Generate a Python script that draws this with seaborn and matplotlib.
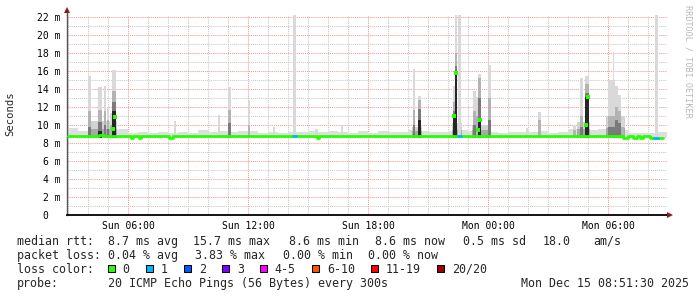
import numpy as np
import matplotlib
matplotlib.use("Agg")
import matplotlib.pyplot as plt
from matplotlib.patches import Rectangle
import seaborn as sns

# ---------------- data (times in hours since Sun 00:00, values in ms) ----------------
x_range = [2.95, 32.95]
tick_hours = [6, 12, 18, 24, 30]
tick_labels = ["Sun 06:00", "Sun 12:00", "Sun 18:00", "Mon 00:00", "Mon 06:00"]
y_ticks = [0, 2, 4, 6, 8, 10, 12, 14, 16, 18, 20, 22]
y_labels = ["0  ", "2 m", "4 m", "6 m", "8 m", "10 m", "12 m", "14 m", "16 m", "18 m", "20 m", "22 m"]
y_top = 22.2

# median rtt (step series)
median_t = [2.985, 4.535, 4.785, 4.935, 6.135, 6.235, 6.535, 6.635, 8.035, 8.235,
            15.435, 15.535, 23.485, 23.685, 28.59, 28.885, 30.735, 30.985, 31.235,
            31.435, 31.585, 31.735, 32.085, 32.735]
median_v = [8.72, 8.90, 8.80, 8.72, 8.52, 8.72, 8.52, 8.72, 8.55, 8.72,
            8.55, 8.72, 8.80, 8.72, 8.80, 8.72, 8.55, 8.72, 8.60,
            8.72, 8.55, 8.72, 8.60, 8.60]

# median values during the latency bursts
median_peak_t = [5.235, 5.335, 22.285, 22.41, 23.485, 23.61, 28.885, 28.985]
median_peak_v = [9.6, 10.9, 11.0, 15.8, 9.4, 10.6, 10.0, 13.1]

# median segments with 1/20 packet loss
loss1_start = [14.235, 22.485, 32.30]
loss1_end = [14.385, 22.635, 32.50]
loss1_v = [8.72, 8.72, 8.60]

# light smoke just above the median, per half hour from 03:00
fuzz_hi = [9.7, 9.3, 9.2, 9.4, 9.4, 9.5, 9.1, 9.2, 9.1, 9.2,
           9.1, 9.2, 9.1, 9.4, 9.2, 9.3, 9.2, 9.3, 9.3, 9.1,
           9.2, 9.1, 9.2, 9.2, 9.3, 9.2, 9.3, 9.2, 9.1, 9.3,
           9.1, 9.3, 9.2, 9.2, 9.4, 9.3, 9.2, 9.2, 9.3, 9.4,
           9.3, 9.3, 9.2, 9.1, 9.2, 9.2, 9.2, 9.3, 9.1, 9.2,
           9.5, 9.6, 9.4, 9.6, 9.8, 9.4, 9.1, 9.1, 9.1, 9.2]
smoke_floor = 8.6

# background of the burst periods: start, end, upper smoke, inner smoke
burst_start = [4.0, 20.2, 22.2, 23.2, 28.45, 29.9]
burst_end = [5.45, 20.7, 22.7, 24.15, 29.1, 30.85]
burst_hi = [10.4, 9.8, 10.2, 10.0, 10.3, 11.0]
burst_lo = [9.6, 9.3, 9.4, 9.4, 9.5, 9.7]

# latency bursts: centre time, duration, and smoke levels (max / upper / inner / core)
spike_t = [4.085, 4.62, 4.86, 5.01, 5.15, 5.31, 8.335, 10.56, 11.06, 12.06,
           13.32, 14.335, 15.435, 16.685, 20.30, 20.585, 22.285, 22.395, 22.565, 23.31,
           23.435, 23.585, 24.06, 25.96, 26.57, 28.335, 28.67, 28.95, 30.16, 30.26,
           30.41, 30.57, 30.735, 32.435]
spike_w = [0.15, 0.20, 0.125, 0.10, 0.125, 0.17, 0.10, 0.125, 0.15, 0.125,
           0.10, 0.125, 0.125, 0.10, 0.135, 0.165, 0.085, 0.115, 0.135, 0.165,
           0.13, 0.17, 0.15, 0.08, 0.135, 0.17, 0.165, 0.165, 0.35, 0.05,
           0.15, 0.135, 0.15, 0.15]
spike_max = [15.4, 14.2, 14.3, 12.0, 11.3, 16.1, 10.4, 11.1, 14.2, 12.7,
             9.8, 23.0, 9.6, 10.0, 16.2, 13.2, 14.3, 23.0, 23.0, 13.8,
             13.1, 15.7, 16.6, 9.7, 11.4, 9.9, 15.2, 15.4, 15.0, 18.1,
             14.3, 13.3, 10.6, 23.0]
spike_mid = [11.5, 11.7, 11.5, 10.5, 10.0, 13.8, 0, 0, 11.6, 10.0,
             0, 0, 0, 0, 11.7, 12.8, 12.5, 18.0, 0, 11.5,
             11.0, 15.2, 13.0, 0, 10.5, 9.4, 11.0, 14.5, 11.0, 0,
             12.0, 11.5, 9.8, 0]
spike_dark = [9.8, 10.3, 10.0, 9.5, 0, 12.5, 0, 0, 10.2, 0,
              0, 0, 0, 0, 10.0, 11.8, 11.5, 16.5, 0, 10.0,
              0, 13.0, 10.5, 0, 0, 0, 9.8, 13.5, 9.8, 0,
              10.5, 10.2, 0, 0]
spike_core = [0, 9.3, 0, 0, 0, 11.5, 0, 0, 0, 0,
              0, 0, 0, 0, 0, 10.5, 11.0, 15.8, 0, 0,
              0, 10.7, 0, 0, 0, 0, 0, 13.1, 0, 0,
              0, 0, 0, 0]

loss_labels = ["0", "1", "2", "3", "4-5", "6-10", "11-19", "20/20"]
loss_colors = ["#26ff00", "#00b8ff", "#0059ff", "#7e00ff", "#ff00ff", "#ff5500", "#ff0000", "#a10000"]

# ---------------- styling ----------------
sns.set_style("white")
plt.rcParams["font.family"] = ["DejaVu Sans Mono"]

W, H = 697, 297
L, R, T, B = 67, 667, 15, 215
fig = plt.figure(figsize=(W / 100, H / 100), dpi=100, facecolor="white")
ax = fig.add_axes([L / W, 1 - B / H, (R - L) / W, (B - T) / H])
ax.set_facecolor("white")
ax.set_xlim(*x_range)
ax.set_ylim(0, y_top)
ax.set_axisbelow(True)

RED_GRID = "#ee9a9a"
GREY_GRID = "#c8c8c8"
dots = (0, (1, 1))
ax.set_xticks(tick_hours)
ax.set_xticklabels(tick_labels)
ax.set_xticks(np.arange(3, 33), minor=True)
ax.set_yticks(y_ticks)
ax.set_yticklabels(y_labels)
ax.set_yticks(np.arange(0, 23), minor=True)
ax.grid(which="minor", color=GREY_GRID, linestyle=dots, linewidth=0.75)
ax.grid(which="major", color=RED_GRID, linestyle=dots, linewidth=0.75)
ax.tick_params(which="major", direction="out", length=2.2, width=0.75, color=RED_GRID,
               labelsize=7, labelcolor="black")
ax.tick_params(which="minor", direction="out", length=1.5, width=0.75, color=GREY_GRID)
ax.tick_params(axis="x", which="major", pad=2.4)
ax.tick_params(axis="y", which="major", pad=2.6)
for s in ["top", "right"]:
    ax.spines[s].set_visible(False)
ax.spines["left"].set_color("#555555")
ax.spines["left"].set_linewidth(1.0)
ax.spines["bottom"].set_color("black")
ax.spines["bottom"].set_linewidth(1.3)

# ---------------- smoke ----------------
fuzz_t = np.arange(3.0, 33.0, 0.5)[:len(fuzz_hi)]
fuzz_hi_a = np.array(fuzz_hi)
ax.bar(fuzz_t, fuzz_hi_a - smoke_floor, bottom=smoke_floor, width=0.5, align="edge",
       color="#dedede", linewidth=0, zorder=2)

bs = np.array(burst_start)
be = np.array(burst_end)
ax.bar(bs, np.array(burst_hi) - smoke_floor, bottom=smoke_floor, width=be - bs, align="edge",
       color="#d2d2d2", linewidth=0, zorder=2.5)
ax.bar(bs, np.array(burst_lo) - smoke_floor, bottom=smoke_floor, width=be - bs, align="edge",
       color="#a8a8a8", linewidth=0, zorder=2.6)

layers = [(spike_max, "#d9d9d9"), (spike_mid, "#b3b3b3"), (spike_dark, "#7a7a7a"), (spike_core, "#262626")]
st = np.array(spike_t)
sw = np.array(spike_w)
for i, (vals, col) in enumerate(layers):
    v = np.array(vals, dtype=float)
    m = v > 0
    ax.bar(st[m], v[m] - smoke_floor, bottom=smoke_floor, width=sw[m], color=col,
           linewidth=0, zorder=3 + 0.1 * i)

# ---------------- median ----------------
GREEN = loss_colors[0]
sns.lineplot(x=median_t, y=median_v, drawstyle="steps-post", color=GREEN, linewidth=2.0,
             estimator=None, ax=ax, zorder=5)
for s0, s1, v in zip(loss1_start, loss1_end, loss1_v):
    sns.lineplot(x=[s0, s1], y=[v, v], color=loss_colors[1], linewidth=2.0,
                 estimator=None, ax=ax, zorder=6)
sns.scatterplot(x=median_peak_t, y=median_peak_v, marker="s", s=5, color=GREEN,
                linewidth=0, ax=ax, zorder=7)
ax.set_xlabel("")
ax.set_ylabel("")

# axis arrows
ARROW = "#8b1a1a"
ax.plot([x_range[0], x_range[0]], [y_top, y_top + 0.45], color="#555555", lw=1.0, clip_on=False, zorder=8)
ax.plot([x_range[0]], [y_top + 0.6], marker="^", ms=4.2, color=ARROW, clip_on=False, zorder=9, mew=0)
ax.plot([x_range[1], x_range[1] + 0.1], [0, 0], color="black", lw=1.3, clip_on=False, zorder=8)
ax.plot([x_range[1] + 0.17], [0], marker=">", ms=4.2, color=ARROW, clip_on=False, zorder=9, mew=0)


def fx(px):
    return px / W


def fy(py):
    return 1 - py / H


fig.text(fx(10), fy(114), "Seconds", rotation=90, ha="center", va="center", fontsize=7.6)
fig.text(fx(688), fy(61), "RRDTOOL / TOBI OETIKER", rotation=270, ha="center", va="center",
         fontsize=6.1, color="#b8b8b8")

# ---------------- legend text ----------------
FS = 8.4
CW = 7.03
BASE = 4.0  # baseline sits below visual row centre
rows = {
    240.7: [(16.7, "median rtt:"), (108, "8.7 ms avg"), (193.5, "15.7 ms max"), (289, "8.6 ms min"),
            (375, "8.6 ms now"), (463, "0.5 ms sd"), (543, "18.0"), (593, "am/s")],
    255.0: [(16.7, "packet loss:"), (108, "0.04 % avg"), (195, "3.83 % max"), (283, "0.00 % min"),
            (368.5, "0.00 % now")],
    269.0: [(16.7, "loss color:")],
    283.3: [(16.7, "probe:"), (108, "20 ICMP Echo Pings (56 Bytes) every 300s")],
}
for yy, items in rows.items():
    for xx, txt in items:
        fig.text(fx(xx), fy(yy + BASE), txt, ha="left", va="baseline", fontsize=FS)
fig.text(fx(689), fy(283.3 + BASE), "Mon Dec 15 08:51:30 2025", ha="right", va="baseline", fontsize=FS)

bx = 107.7
for lab, col in zip(loss_labels, loss_colors):
    fig.add_artist(Rectangle((fx(bx), fy(272.3)), 7.3 / W, 7.3 / H, transform=fig.transFigure,
                             facecolor=col, edgecolor="black", linewidth=0.75))
    fig.text(fx(bx + 15), fy(269.0 + BASE), lab, ha="left", va="baseline", fontsize=FS)
    bx = bx + 15 + len(lab) * CW + 16

fig.savefig("out.png", dpi=100, facecolor="white")
